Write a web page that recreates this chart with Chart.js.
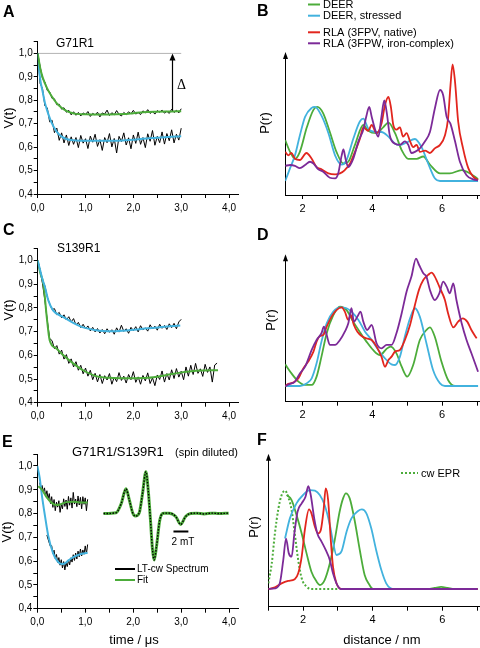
<!DOCTYPE html>
<html lang="en">
<head>
  <meta charset="UTF-8">
  <title>DEER time traces and distance distributions</title>
  <script src="https://cdn.jsdelivr.net/npm/chart.js"></script>
  <style>
    html, body { margin: 0; padding: 0; background: #fff; }
    #page { position: relative; width: 480px; height: 648px; overflow: hidden; }
    canvas { position: absolute; display: block; }
  </style>
</head>
<body>
<div id="page">
  <canvas id="panelA" width="240" height="215" style="left:0;top:0"></canvas>
  <canvas id="panelB" width="240" height="215" style="left:240px;top:0"></canvas>
  <canvas id="panelC" width="240" height="210" style="left:0;top:215px"></canvas>
  <canvas id="panelD" width="240" height="210" style="left:240px;top:215px"></canvas>
  <canvas id="panelE" width="240" height="223" style="left:0;top:425px"></canvas>
  <canvas id="panelF" width="240" height="223" style="left:240px;top:425px"></canvas>
</div>

<script>
  // ---- data ----
  // time traces are sampled on a regular grid: start time + step, values listed
  const tStep = 0.05;

  // A: G71R1
  const vA_deerRaw = [1.0, 0.945, 0.893, 0.878, 0.842, 0.836, 0.808, 0.806, 0.781, 0.783,
    0.762, 0.768, 0.749, 0.757, 0.738, 0.751, 0.736, 0.748, 0.733, 0.746,
    0.739, 0.752, 0.731, 0.744, 0.737, 0.749, 0.729, 0.746, 0.741, 0.758,
    0.735, 0.747, 0.738, 0.756, 0.74, 0.733, 0.748, 0.739, 0.751, 0.742,
    0.757, 0.741, 0.748, 0.739, 0.755, 0.746, 0.76, 0.744, 0.752, 0.741,
    0.756, 0.749, 0.758, 0.745, 0.753, 0.744, 0.762, 0.748, 0.757, 0.746, 0.764];
  const vA_stressRaw = [1.0, 0.872, 0.851, 0.776, 0.768, 0.708, 0.715, 0.662, 0.681, 0.629,
    0.661, 0.618, 0.652, 0.607, 0.644, 0.612, 0.641, 0.598, 0.65, 0.617,
    0.636, 0.594, 0.647, 0.621, 0.655, 0.603, 0.632, 0.586, 0.641, 0.619,
    0.658, 0.601, 0.637, 0.575, 0.646, 0.624, 0.661, 0.609, 0.64, 0.593,
    0.652, 0.616, 0.664, 0.612, 0.641, 0.598, 0.657, 0.625, 0.671, 0.608,
    0.646, 0.619, 0.665, 0.613, 0.658, 0.627, 0.674, 0.618, 0.655, 0.63, 0.681];
  const tA_deerFit = [0, 0.05, 0.1, 0.2, 0.3, 0.4, 0.5, 0.6, 0.7, 0.8, 1.0, 1.2, 1.5, 1.8, 2.0, 2.2, 2.5, 2.8, 3.0];
  const vA_deerFit = [1.0, 0.94, 0.9, 0.85, 0.815, 0.787, 0.768, 0.755, 0.747, 0.742, 0.74, 0.739, 0.739, 0.741, 0.745, 0.749, 0.751, 0.752, 0.753];
  const tA_stressFit = [0, 0.03, 0.06, 0.1, 0.15, 0.2, 0.3, 0.4, 0.5, 0.6, 0.7, 0.8, 1.0, 1.5, 2.0, 2.5, 2.8, 3.0];
  const vA_stressFit = [1.0, 0.93, 0.88, 0.84, 0.79, 0.755, 0.7, 0.665, 0.645, 0.635, 0.63, 0.628, 0.627, 0.627, 0.632, 0.64, 0.644, 0.646];
  const tA_refLine = [0, 3.0];
  const vA_refLine = [1.0, 1.0];
  const deltaA = { t: 2.8, from: 0.757, to: 1.0 };

  // C: S139R1
  const vC_stressRaw = [1.0, 0.962, 0.915, 0.893, 0.846, 0.818, 0.793, 0.797, 0.772, 0.781,
    0.758, 0.771, 0.749, 0.763, 0.741, 0.755, 0.728, 0.739, 0.717, 0.731,
    0.712, 0.724, 0.703, 0.718, 0.699, 0.713, 0.694, 0.709, 0.691, 0.712,
    0.697, 0.708, 0.689, 0.716, 0.698, 0.727, 0.701, 0.712, 0.693, 0.718,
    0.704, 0.721, 0.699, 0.725, 0.708, 0.716, 0.702, 0.729, 0.711, 0.723,
    0.706, 0.731, 0.714, 0.726, 0.709, 0.733, 0.717, 0.735, 0.712, 0.741, 0.752];
  const vC_deerRaw = [1.0, 0.957, 0.903, 0.832, 0.748, 0.671, 0.662, 0.628, 0.641, 0.605,
    0.622, 0.584, 0.603, 0.566, 0.585, 0.551, 0.573, 0.537, 0.558, 0.522,
    0.546, 0.512, 0.537, 0.497, 0.524, 0.488, 0.519, 0.481, 0.514, 0.496,
    0.523, 0.478, 0.508, 0.489, 0.527, 0.494, 0.512, 0.483, 0.519, 0.497,
    0.531, 0.486, 0.509, 0.478, 0.515, 0.492, 0.526, 0.481, 0.505, 0.472,
    0.517, 0.498, 0.534, 0.487, 0.523, 0.496, 0.539, 0.502, 0.544, 0.508,
    0.533, 0.497, 0.551, 0.512, 0.558, 0.519, 0.566, 0.524, 0.543, 0.511,
    0.562, 0.528, 0.551, 0.487, 0.559, 0.567];
  const tC_stressFit = [0, 0.05, 0.1, 0.15, 0.22, 0.32, 0.53, 0.88, 1.22, 1.57, 1.91, 2.3, 2.6, 2.98];
  const vC_stressFit = [1.0, 0.96, 0.92, 0.889, 0.833, 0.79, 0.762, 0.723, 0.706, 0.702, 0.706, 0.714, 0.72, 0.726];
  const tC_deerFit = [0, 0.05, 0.12, 0.19, 0.25, 0.39, 0.53, 0.74, 0.94, 1.22, 1.5, 1.9, 2.3, 2.65, 3.0, 3.4, 3.77];
  const vC_deerFit = [1.0, 0.95, 0.9, 0.76, 0.664, 0.629, 0.601, 0.566, 0.538, 0.512, 0.505, 0.503, 0.505, 0.515, 0.528, 0.536, 0.537];

  // E: G71R1/S139R1 spin diluted
  const tE_step = 0.025;
  const tE_deerStart = 0.05;
  const vE_deerRaw = [0.93, 0.905, 0.918, 0.89, 0.908, 0.872, 0.896, 0.862, 0.884, 0.842,
    0.871, 0.826, 0.859, 0.812, 0.848, 0.827, 0.854, 0.805, 0.839, 0.82,
    0.862, 0.83, 0.857, 0.818, 0.872, 0.835, 0.866, 0.823, 0.889, 0.84,
    0.861, 0.829, 0.874, 0.836, 0.868, 0.82, 0.871, 0.839, 0.866, 0.812, 0.86];
  const tE_stressStart = 0.2;
  const vE_stressRaw = [0.71, 0.692, 0.676, 0.661, 0.665, 0.632, 0.646, 0.611, 0.628, 0.595,
    0.615, 0.583, 0.606, 0.571, 0.598, 0.563, 0.594, 0.577, 0.605, 0.584,
    0.614, 0.596, 0.627, 0.603, 0.634, 0.609, 0.642, 0.618, 0.651, 0.622,
    0.647, 0.629, 0.664, 0.631, 0.67];
  const tE_deerFit = [0.02, 0.1, 0.19, 0.3, 0.4, 0.5, 0.61, 0.75, 0.88, 1.05];
  const vE_deerFit = [0.915, 0.9, 0.87, 0.845, 0.836, 0.84, 0.848, 0.85, 0.847, 0.846];
  const tE_stressFit = [0, 0.05, 0.09, 0.16, 0.23, 0.33, 0.42, 0.5, 0.57, 0.65, 0.75, 0.88, 1.05];
  const vE_stressFit = [1.0, 0.95, 0.885, 0.79, 0.705, 0.633, 0.6, 0.588, 0.59, 0.603, 0.617, 0.628, 0.635];
  // LT-cw spectrum inset (field in mT, relative; amplitude in a.u.)
  const cwField = [0, 1.69, 2.36, 3.02, 3.47, 3.91, 4.27, 4.8, 5.24, 5.69, 6.0, 6.27, 6.58, 6.8, 7.11, 7.56,
    8.13, 8.8, 9.69, 10.36, 11.02, 11.69, 12.5, 13.5, 14.5, 15.5, 16.8];
  const cwSignal = [0, 0.02, 0.23, 0.59, 0.32, 0.02, -0.06, 0.02, 0.48, 1.0, 0.56, -0.07, -0.87, -1.11, -0.79, -0.15,
    0.01, 0.01, -0.07, -0.26, -0.07, 0, 0.01, -0.01, 0.01, 0, 0.01];
  const scaleBarE = { from: 9.39, to: 11.39, level: -0.43 };

  // B: P(r) for G71R1
  const rB_deer = [1.5, 1.64, 1.78, 1.92, 2.12, 2.31, 2.42, 2.59, 2.78, 2.97, 3.17, 3.31, 3.5, 3.74, 3.88, 4.12, 4.31, 4.46, 4.65, 4.84,
    5.03, 5.27, 5.46, 5.65, 5.94, 6.22, 6.56, 6.8, 7.03];
  const pB_deer = [0.35, 0.25, 0.19, 0.25, 0.46, 0.61, 0.635, 0.58, 0.42, 0.25, 0.15, 0.165, 0.31, 0.48, 0.43, 0.41, 0.46, 0.5, 0.41, 0.265,
    0.19, 0.19, 0.21, 0.14, 0.065, 0.065, 0.094, 0.065, 0.017];
  const rB_stress = [1.5, 1.64, 1.78, 1.92, 2.07, 2.26, 2.35, 2.54, 2.74, 2.93, 3.12, 3.26, 3.45, 3.64, 3.74, 3.88, 4.07, 4.26, 4.46, 4.65,
    4.79, 4.98, 5.22, 5.41, 5.6, 5.79, 5.94, 7.03];
  const pB_stress = [0, 0.11, 0.22, 0.39, 0.55, 0.627, 0.635, 0.56, 0.41, 0.22, 0.14, 0.18, 0.36, 0.51, 0.535, 0.45, 0.42, 0.42, 0.38, 0.32,
    0.31, 0.33, 0.36, 0.29, 0.15, 0.023, 0, 0];
  const rB_native = [1.5, 1.59, 1.68, 1.78, 1.92, 2.11, 2.26, 2.4, 2.54, 2.74, 2.93, 3.07, 3.21, 3.36, 3.5, 3.64, 3.74, 3.88, 3.98, 4.12,
    4.26, 4.36, 4.46, 4.53, 4.6, 4.69, 4.79, 4.88, 4.98, 5.08, 5.17, 5.27, 5.36, 5.51, 5.65, 5.79, 5.94, 6.08, 6.17, 6.24,
    6.3, 6.37, 6.46, 6.6, 6.75, 6.89, 7.03];
  const pB_native = [0.25, 0.22, 0.24, 0.19, 0.18, 0.24, 0.19, 0.12, 0.1, 0.065, 0.057, 0.065, 0.094, 0.15, 0.25, 0.36, 0.46, 0.43, 0.48, 0.41,
    0.49, 0.65, 0.72, 0.635, 0.48, 0.44, 0.46, 0.38, 0.41, 0.34, 0.29, 0.31, 0.25, 0.26, 0.24, 0.28, 0.31, 0.39, 0.535, 0.82,
    1.0, 0.85, 0.51, 0.28, 0.11, 0.037, 0.009];
  const rB_iron = [1.5, 1.64, 1.78, 1.92, 2.07, 2.21, 2.31, 2.45, 2.59, 2.78, 2.93, 3.02, 3.12, 3.17, 3.23, 3.31, 3.45, 3.6, 3.74, 3.83,
    3.91, 3.98, 4.07, 4.17, 4.26, 4.34, 4.41, 4.5, 4.65, 4.79, 4.93, 5.03, 5.12, 5.22, 5.36, 5.51, 5.65, 5.79, 5.94, 6.03,
    6.13, 6.24, 6.37, 6.51, 6.7, 6.89, 7.03];
  const pB_iron = [0.13, 0.137, 0.13, 0.11, 0.137, 0.165, 0.15, 0.1, 0.08, 0.028, 0.023, 0.065, 0.22, 0.27, 0.19, 0.12, 0.19, 0.34, 0.44, 0.56,
    0.635, 0.55, 0.45, 0.38, 0.55, 0.69, 0.59, 0.39, 0.32, 0.31, 0.34, 0.31, 0.24, 0.25, 0.28, 0.34, 0.42, 0.62, 0.78, 0.735,
    0.55, 0.49, 0.34, 0.165, 0.05, 0.014, 0.006];

  // D: P(r) for S139R1
  const rD_deer = [1.5, 1.68, 1.88, 2.07, 2.26, 2.4, 2.54, 2.69, 2.88, 3.07, 3.26, 3.45, 3.64, 3.83, 4.02, 4.22, 4.41, 4.53, 4.69, 4.84,
    5.0, 5.17, 5.36, 5.55, 5.65, 5.79, 5.98, 6.17, 6.37, 7.03];
  const pD_deer = [0.168, 0.098, 0.034, 0.008, 0.008, 0.073, 0.228, 0.41, 0.55, 0.617, 0.59, 0.5, 0.42, 0.345, 0.28, 0.24, 0.29, 0.306, 0.254, 0.15,
    0.073, 0.163, 0.357, 0.435, 0.456, 0.383, 0.19, 0.047, 0, 0];
  const rD_stress = [1.5, 1.92, 2.11, 2.26, 2.4, 2.54, 2.69, 2.88, 3.07, 3.26, 3.4, 3.6, 3.79, 3.98, 4.17, 4.36, 4.55, 4.65, 4.79, 4.93,
    5.08, 5.22, 5.36, 5.55, 5.74, 5.94, 6.08, 7.03];
  const pD_stress = [0, 0, 0.02, 0.06, 0.176, 0.345, 0.487, 0.578, 0.611, 0.604, 0.578, 0.513, 0.422, 0.357, 0.28, 0.215, 0.168, 0.163, 0.228, 0.383,
    0.526, 0.604, 0.539, 0.332, 0.124, 0.02, 0, 0];
  const rD_native = [1.5, 1.59, 1.73, 1.88, 2.02, 2.16, 2.31, 2.4, 2.5, 2.59, 2.69, 2.83, 2.97, 3.12, 3.21, 3.31, 3.38, 3.47, 3.57, 3.69,
    3.83, 3.98, 4.12, 4.26, 4.36, 4.46, 4.55, 4.65, 4.79, 4.93, 5.08, 5.22, 5.34, 5.46, 5.6, 5.7, 5.79, 5.94, 6.08, 6.17,
    6.32, 6.46, 6.59, 6.72, 6.84, 6.99];
  const pD_native = [0, 0.016, 0.026, 0.06, 0.137, 0.19, 0.267, 0.345, 0.389, 0.396, 0.461, 0.539, 0.59, 0.611, 0.578, 0.513, 0.552, 0.474, 0.422, 0.389,
    0.37, 0.357, 0.306, 0.228, 0.15, 0.202, 0.228, 0.267, 0.28, 0.357, 0.474, 0.63, 0.751, 0.824, 0.863, 0.881, 0.85, 0.759, 0.668, 0.565,
    0.456, 0.5, 0.526, 0.5, 0.435, 0.37];
  const rD_iron = [1.5, 1.64, 1.78, 1.92, 2.07, 2.26, 2.4, 2.54, 2.61, 2.69, 2.78, 2.93, 3.07, 3.21, 3.31, 3.4, 3.47, 3.57, 3.66, 3.74,
    3.85, 3.98, 4.12, 4.26, 4.41, 4.55, 4.69, 4.84, 4.98, 5.12, 5.25, 5.34, 5.46, 5.55, 5.65, 5.79, 5.92, 6.03, 6.13, 6.22,
    6.32, 6.41, 6.56, 6.7, 6.84, 7.03];
  const pD_iron = [0, 0.016, 0.034, 0.098, 0.15, 0.28, 0.357, 0.41, 0.461, 0.396, 0.319, 0.319, 0.357, 0.422, 0.487, 0.604, 0.5, 0.539, 0.578, 0.5,
    0.435, 0.474, 0.332, 0.293, 0.319, 0.319, 0.41, 0.565, 0.733, 0.85, 0.99, 0.94, 0.876, 0.85, 0.746, 0.668, 0.72, 0.811, 0.772, 0.72,
    0.798, 0.668, 0.487, 0.357, 0.254, 0.111];

  // F: P(r) for G71R1/S139R1
  const rF_cw = [1.0, 1.1, 1.19, 1.29, 1.38, 1.48, 1.57, 1.67, 1.76, 1.86, 1.96, 2.1, 2.24, 3.0];
  const pF_cw = [0.055, 0.25, 0.54, 0.78, 0.91, 0.955, 0.896, 0.767, 0.54, 0.28, 0.104, 0.023, 0, 0];
  const rF_deer = [1.53, 1.67, 1.81, 1.96, 2.1, 2.24, 2.39, 2.48, 2.62, 2.77, 2.91, 3.05, 3.15, 3.23, 3.34, 3.48, 3.63, 3.77, 3.91, 4.01,
    5.59, 5.78, 5.97, 6.16, 6.35, 7.02];
  const pF_deer = [0.913, 0.864, 0.72, 0.54, 0.346, 0.168, 0.071, 0.039, 0.087, 0.25, 0.476, 0.75, 0.88, 0.929, 0.88, 0.67, 0.379, 0.136, 0.039, 0,
    0, 0.01, 0.02, 0.01, 0, 0];
  const rF_stress = [1.48, 1.62, 1.81, 2.0, 2.19, 2.34, 2.48, 2.62, 2.77, 2.86, 2.96, 3.1, 3.25, 3.39, 3.58, 3.69, 3.82, 3.96, 4.1, 4.25,
    4.39, 4.52, 4.63, 7.02];
  const pF_stress = [0.49, 0.686, 0.832, 0.913, 0.961, 0.955, 0.913, 0.816, 0.621, 0.46, 0.33, 0.362, 0.557, 0.686, 0.757, 0.773, 0.735, 0.589, 0.379, 0.184,
    0.055, 0.006, 0, 0];
  const rF_native = [1.0, 1.19, 1.38, 1.57, 1.76, 1.86, 1.96, 2.05, 2.17, 2.24, 2.34, 2.43, 2.51, 2.59, 2.65, 2.72, 2.79, 2.86, 2.96, 3.05, 3.15, 7.02];
  const pF_native = [0, 0.016, 0.055, 0.078, 0.094, 0.152, 0.314, 0.573, 0.773, 0.735, 0.605, 0.54, 0.573, 0.767, 0.977, 0.864, 0.508, 0.217, 0.055, 0.006, 0, 0];
  const rF_iron = [1.0, 1.19, 1.33, 1.43, 1.51, 1.59, 1.67, 1.75, 1.84, 1.96, 2.07, 2.15, 2.22, 2.32, 2.41, 2.53, 2.65, 2.77, 2.86, 2.96, 3.08, 7.02];
  const pF_iron = [0, 0.006, 0.055, 0.28, 0.49, 0.346, 0.314, 0.54, 0.75, 0.832, 0.896, 1.0, 0.913, 0.686, 0.54, 0.46, 0.379, 0.28, 0.152, 0.055, 0, 0];

  // ---- styling ----
  const GREEN = 'rgb(76,172,58)';
  const CYAN = 'rgb(66,178,222)';
  const RED = 'rgb(226,38,30)';
  const PURPLE = 'rgb(124,42,152)';
  const FONT = '"Liberation Sans", Arial, sans-serif';

  function xy(xs, ys) { return xs.map((x, i) => ({ x: x, y: ys[i] })); }
  function sampled(t0, dt, vs) { return vs.map((v, i) => ({ x: +(t0 + i * dt).toFixed(3), y: v })); }

  function curve(data, color, width, extra) {
    return Object.assign({ data: data, borderColor: color, borderWidth: width, pointRadius: 0,
      fill: false, cubicInterpolationMode: 'monotone' }, extra || {});
  }
  function noisy(data) {
    return { data: data, borderColor: '#000', borderWidth: 1, pointRadius: 0, fill: false, tension: 0 };
  }

  // text, legends and arrows drawn on top of each panel
  function overlay(items, extra) {
    return {
      id: 'overlay',
      afterDraw(chart) {
        const ctx = chart.ctx;
        ctx.save();
        if (extra) extra(chart, ctx);
        items.forEach(it => {
          if (it.line) {
            ctx.strokeStyle = it.color; ctx.lineWidth = it.width || 2;
            ctx.setLineDash(it.dash || []);
            ctx.beginPath(); ctx.moveTo(it.x1, it.y); ctx.lineTo(it.x2, it.y); ctx.stroke();
            ctx.setLineDash([]);
            return;
          }
          ctx.font = it.font || '12px ' + FONT;
          ctx.fillStyle = '#000';
          ctx.textAlign = it.align || 'left';
          ctx.textBaseline = it.base || 'alphabetic';
          if (it.rot) {
            ctx.save(); ctx.translate(it.x, it.y); ctx.rotate(it.rot);
            ctx.fillText(it.text, 0, 0); ctx.restore();
          } else {
            ctx.fillText(it.text, it.x, it.y);
          }
        });
        ctx.restore();
      }
    };
  }

  function yArrow(chart, ctx) {
    const a = chart.chartArea;
    const x = Math.round(a.left) + 0.5;
    ctx.fillStyle = '#000';
    ctx.beginPath();
    ctx.moveTo(x, a.top - 3);
    ctx.lineTo(x - 2.5, a.top + 4);
    ctx.lineTo(x + 2.5, a.top + 4);
    ctx.closePath();
    ctx.fill();
  }

  function baseOptions(padTop, scales) {
    return {
      responsive: false,
      animation: false,
      events: [],
      layout: { padding: { top: padTop, left: 0, right: 0, bottom: 0 } },
      plugins: { legend: { display: false }, tooltip: { enabled: false } },
      scales: scales
    };
  }

  const axisBorder = { display: true, color: '#000', width: 1 };
  const tickGrid = { display: true, drawOnChartArea: false, color: '#000', tickLength: 4 };

  function timeScales(yWidth, xHeight, xMax) {
    return {
      x: {
        type: 'linear', min: 0, max: xMax, border: axisBorder, grid: tickGrid,
        ticks: { stepSize: 0.5, includeBounds: false, autoSkip: false, maxRotation: 0, padding: 4,
          color: '#000', font: { family: FONT, size: 10 },
          callback: v => Number.isInteger(v) ? v.toFixed(1).replace('.', ',') : '' },
        afterFit: s => { s.height = xHeight; }
      },
      y: {
        type: 'linear', min: 0.4, max: 1.05, border: axisBorder, grid: tickGrid,
        ticks: { stepSize: 0.05, includeBounds: false, autoSkip: false, padding: 1,
          color: '#000', font: { family: FONT, size: 10 },
          callback: v => { const k = Math.round(v * 100); return k % 10 === 0 ? (k / 100).toFixed(1).replace('.', ',') : ''; } },
        afterFit: s => { s.width = yWidth; }
      }
    };
  }

  function distScales(yWidth, xHeight, xMin, xMax, yMin, yMax) {
    return {
      x: {
        type: 'linear', min: xMin, max: xMax, border: axisBorder, grid: tickGrid,
        ticks: { stepSize: 1, includeBounds: false, autoSkip: false, maxRotation: 0, padding: 3,
          color: '#000', font: { family: FONT, size: 11 },
          callback: v => v % 2 === 0 ? String(v) : '' },
        afterFit: s => { s.height = xHeight; }
      },
      y: {
        type: 'linear', min: yMin, max: yMax, border: axisBorder,
        grid: { display: false }, ticks: { display: false },
        afterFit: s => { s.width = yWidth; }
      }
    };
  }

  const label16 = 'bold 16px ' + FONT;
  const rotUp = -Math.PI / 2;
  const axisTitle = '13px ' + FONT;

  // ---- A ----
  new Chart(document.getElementById('panelA'), {
    type: 'line',
    data: { datasets: [
      curve(xy(tA_deerFit, vA_deerFit), GREEN, 2),
      curve(xy(tA_stressFit, vA_stressFit), CYAN, 2),
      noisy(sampled(0, tStep, vA_deerRaw)),
      noisy(sampled(0, tStep, vA_stressRaw)),
      curve(xy(tA_refLine, vA_refLine), '#b4b4b4', 1)
    ] },
    options: baseOptions(41.7, timeScales(37.7, 21, 4.19)),
    plugins: [overlay([
      { text: 'A', x: 3, y: 17, font: label16 },
      { text: 'G71R1', x: 56, y: 47 },
      { text: 'V(t)', x: 9, y: 118, rot: rotUp, align: 'center', base: 'middle', font: axisTitle },
      { text: 'Δ', x: 177, y: 85, base: 'middle', font: '14px "Liberation Serif", serif' }
    ], (chart, ctx) => {
      const x = Math.round(chart.scales.x.getPixelForValue(deltaA.t)) + 0.5;
      const y0 = chart.scales.y.getPixelForValue(deltaA.from);
      const y1 = chart.scales.y.getPixelForValue(deltaA.to);
      ctx.strokeStyle = '#000'; ctx.lineWidth = 1.2;
      ctx.beginPath(); ctx.moveTo(x, y0); ctx.lineTo(x, y1 + 5); ctx.stroke();
      ctx.fillStyle = '#000';
      ctx.beginPath(); ctx.moveTo(x, y1); ctx.lineTo(x - 3, y1 + 7); ctx.lineTo(x + 3, y1 + 7); ctx.closePath(); ctx.fill();
    })]
  });

  // ---- B ----
  new Chart(document.getElementById('panelB'), {
    type: 'line',
    data: { datasets: [
      curve(xy(rB_iron, pB_iron), PURPLE, 1.8),
      curve(xy(rB_native, pB_native), RED, 1.8),
      curve(xy(rB_stress, pB_stress), CYAN, 1.8),
      curve(xy(rB_deer, pB_deer), GREEN, 1.8)
    ] },
    options: baseOptions(55, distScales(45.2, 20, 1.5, 7.08, -0.12, 1.08)),
    plugins: [overlay([
      { text: 'B', x: 17, y: 16, font: label16 },
      { line: true, x1: 68, x2: 80, y: 4.5, color: GREEN },
      { text: 'DEER', x: 83, y: 5, base: 'middle', font: '11px ' + FONT },
      { line: true, x1: 68, x2: 80, y: 15.7, color: CYAN },
      { text: 'DEER, stressed', x: 83, y: 16, base: 'middle', font: '11px ' + FONT },
      { line: true, x1: 68, x2: 80, y: 32.3, color: RED },
      { text: 'RLA (3FPV, native)', x: 83, y: 32.5, base: 'middle', font: '11px ' + FONT },
      { line: true, x1: 68, x2: 80, y: 43.3, color: PURPLE },
      { text: 'RLA (3FPW, iron-complex)', x: 83, y: 43.5, base: 'middle', font: '11px ' + FONT },
      { text: 'P(r)', x: 25, y: 123, rot: rotUp, align: 'center', base: 'middle', font: axisTitle }
    ], yArrow)]
  });

  // ---- C ----
  new Chart(document.getElementById('panelC'), {
    type: 'line',
    data: { datasets: [
      curve(xy(tC_stressFit, vC_stressFit), CYAN, 2),
      curve(xy(tC_deerFit, vC_deerFit), GREEN, 2),
      noisy(sampled(0, tStep, vC_stressRaw)),
      noisy(sampled(0, tStep, vC_deerRaw))
    ] },
    options: baseOptions(33.7, timeScales(37.7, 22.3, 4.19)),
    plugins: [overlay([
      { text: 'C', x: 3, y: 20, font: label16 },
      { text: 'S139R1', x: 57, y: 37 },
      { text: 'V(t)', x: 9, y: 95, rot: rotUp, align: 'center', base: 'middle', font: axisTitle }
    ])]
  });

  // ---- D ----
  new Chart(document.getElementById('panelD'), {
    type: 'line',
    data: { datasets: [
      curve(xy(rD_iron, pD_iron), PURPLE, 1.8),
      curve(xy(rD_native, pD_native), RED, 1.8),
      curve(xy(rD_stress, pD_stress), CYAN, 1.8),
      curve(xy(rD_deer, pD_deer), GREEN, 1.8)
    ] },
    options: baseOptions(42.3, distScales(45.2, 23.3, 1.5, 7.08, -0.122, 1.0)),
    plugins: [overlay([
      { text: 'D', x: 17, y: 25, font: label16 },
      { text: 'P(r)', x: 31.5, y: 105, rot: rotUp, align: 'center', base: 'middle', font: axisTitle }
    ], yArrow)]
  });

  // ---- E ----
  const scalesE = timeScales(37.3, 39.3, 4.2);
  scalesE.xs = { type: 'linear', axis: 'x', display: false, min: -8.89, max: 18.14 };
  scalesE.ys = { type: 'linear', axis: 'y', display: false, min: -2.273, max: 1.42 };
  new Chart(document.getElementById('panelE'), {
    type: 'line',
    data: { datasets: [
      curve(xy(tE_deerFit, vE_deerFit), GREEN, 2),
      curve(xy(tE_stressFit, vE_stressFit), CYAN, 2),
      noisy(sampled(tE_deerStart, tE_step, vE_deerRaw)),
      noisy(sampled(tE_stressStart, tE_step, vE_stressRaw)),
      curve(xy(cwField, cwSignal), '#000', 1.4, { xAxisID: 'xs', yAxisID: 'ys', borderDash: [1.5, 1.5] }),
      curve(xy(cwField, cwSignal), GREEN, 3, { xAxisID: 'xs', yAxisID: 'ys' }),
      curve(xy([scaleBarE.from, scaleBarE.to], [scaleBarE.level, scaleBarE.level]), '#000', 2,
        { xAxisID: 'xs', yAxisID: 'ys' })
    ] },
    options: baseOptions(29.1, scalesE),
    plugins: [overlay([
      { text: 'E', x: 2, y: 22, font: label16 },
      { text: 'G71R1/S139R1', x: 72, y: 31, font: '13px ' + FONT },
      { text: '(spin diluted)', x: 175, y: 31, font: '11px ' + FONT },
      { text: 'V(t)', x: 7, y: 107, rot: rotUp, align: 'center', base: 'middle', font: axisTitle },
      { text: '2 mT', x: 183, y: 117, align: 'center', base: 'middle', font: '10px ' + FONT },
      { line: true, x1: 115, x2: 135, y: 144, color: '#000' },
      { text: 'LT-cw Spectrum', x: 137, y: 144.5, base: 'middle', font: '10px ' + FONT },
      { line: true, x1: 115, x2: 135, y: 155, color: GREEN },
      { text: 'Fit', x: 137, y: 155.5, base: 'middle', font: '10px ' + FONT },
      { text: 'time / μs', x: 134, y: 215, align: 'center', base: 'middle', font: '13px ' + FONT }
    ])]
  });

  // ---- F ----
  new Chart(document.getElementById('panelF'), {
    type: 'line',
    data: { datasets: [
      curve(xy(rF_iron, pF_iron), PURPLE, 1.8),
      curve(xy(rF_native, pF_native), RED, 1.8),
      curve(xy(rF_stress, pF_stress), CYAN, 1.8),
      curve(xy(rF_deer, pF_deer), GREEN, 1.8),
      curve(xy(rF_cw, pF_cw), GREEN, 2, { borderDash: [2, 2] })
    ] },
    options: baseOptions(31.7, distScales(28.3, 41.3, 1.0, 7.07, -0.172, 1.285)),
    plugins: [overlay([
      { text: 'F', x: 17, y: 20, font: label16 },
      { text: 'P(r)', x: 14, y: 102, rot: rotUp, align: 'center', base: 'middle', font: axisTitle },
      { line: true, x1: 161, x2: 178, y: 48, color: GREEN, dash: [2, 2] },
      { text: 'cw EPR', x: 181, y: 48.5, base: 'middle', font: '11px ' + FONT },
      { text: 'distance / nm', x: 142, y: 215, align: 'center', base: 'middle', font: '13px ' + FONT }
    ], yArrow)]
  });
</script>
</body>
</html>
